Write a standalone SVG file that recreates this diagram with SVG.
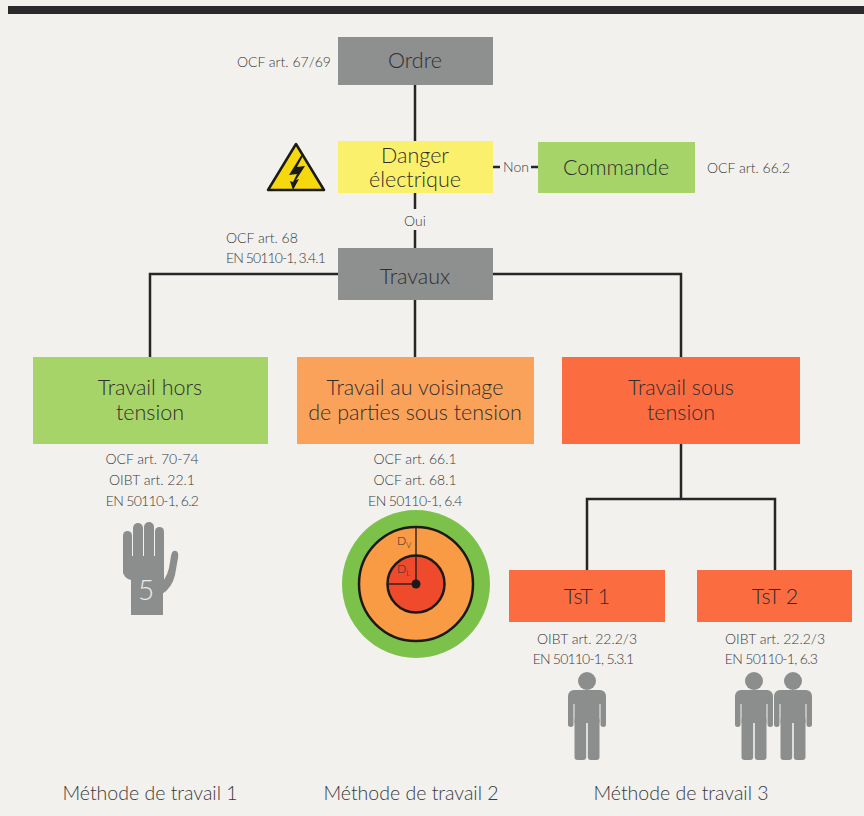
<svg xmlns="http://www.w3.org/2000/svg" width="864" height="816" viewBox="0 0 864 816">
<style>
  text { font-family: Lato, "Open Sans", "Liberation Sans", sans-serif; font-weight: 300; fill: #2f2f2f; }
  .big { font-size: 21.5px; text-anchor: middle; }
  .ref { font-size: 14px; fill: #3a3a3a; }
  .refc { font-size: 14px; fill: #3a3a3a; text-anchor: middle; }
  .foot { font-size: 19.5px; text-anchor: middle; fill: #3a3a3a; }
  .gray { fill: #8e8f8f; }
  .yellow { fill: #fbf06c; }
  .green { fill: #a7d468; }
  .orange { fill: #fba25a; }
  .red { fill: #fb6c40; }
  .icon { fill: #8c8d8d; }
  .conn { stroke: #262626; stroke-width: 2.5; fill: none; }
</style>
<defs>
  <g id="person">
    <circle cx="0" cy="0" r="9"/>
    <rect x="-19" y="9" width="38" height="14" rx="6"/>
    <rect x="-19" y="15" width="5.5" height="31" rx="2.7"/>
    <rect x="13.5" y="15" width="5.5" height="31" rx="2.7"/>
    <rect x="-12.5" y="15" width="25" height="27"/>
    <rect x="-12.5" y="36" width="11.7" height="43" rx="3"/>
    <rect x="0.8" y="36" width="11.7" height="43" rx="3"/>
  </g>
</defs>
<rect x="0" y="0" width="864" height="816" fill="#f2f1ee"/>
<rect x="8" y="6" width="856" height="8" fill="#2a2a2a"/>

<g id="connectors">
  <line class="conn" x1="415" y1="85" x2="415" y2="141"/>
  <line class="conn" x1="415" y1="193" x2="415" y2="209"/>
  <line class="conn" x1="415" y1="230" x2="415" y2="248"/>
  <line class="conn" x1="493" y1="167" x2="500" y2="167"/>
  <line class="conn" x1="531" y1="167" x2="538" y2="167"/>
  <polyline class="conn" points="150,357 150,274 681,274 681,357"/>
  <line class="conn" x1="415" y1="300" x2="415" y2="357"/>
  <line class="conn" x1="681" y1="444" x2="681" y2="499"/>
  <polyline class="conn" points="587,570 587,499 775,499 775,570"/>
  <text class="refc" x="415" y="226">Oui</text>
  <text class="refc" x="516" y="172">Non</text>
</g>

<g id="ordre">
  <rect class="gray" x="338" y="37" width="155" height="48"/>
  <text class="big" x="415" y="68">Ordre</text>
  <text class="ref" x="331" y="67" text-anchor="end">OCF art. 67/69</text>
</g>

<g id="danger">
  <rect class="yellow" x="338" y="141" width="155" height="52"/>
  <text class="big" x="415" y="163">Danger</text>
  <text class="big" x="415" y="187">électrique</text>
  <polygon points="296,144 268,190 324,190" fill="#f6d80f" stroke="#1a1a1a" stroke-width="2.5" stroke-linejoin="round"/>
  <polygon points="302,154 289,175 297,174 293,182 290,181 293,190 299,179 296,180 305,166 297,167 304,154" fill="#1a1a1a"/>
</g>

<g id="commande">
  <rect class="green" x="538" y="142" width="157" height="51"/>
  <text class="big" x="616" y="175">Commande</text>
  <text class="ref" x="707" y="173">OCF art. 66.2</text>
</g>

<g id="travaux">
  <rect class="gray" x="338" y="248" width="155" height="52"/>
  <text class="big" x="415" y="284">Travaux</text>
  <text class="ref" x="226" y="243">OCF art. 68</text>
  <text class="ref" x="226" y="263" letter-spacing="-0.9">EN 50110-1, 3.4.1</text>
</g>

<g id="hors-tension">
  <rect class="green" x="33" y="357" width="235" height="87"/>
  <text class="big" x="150" y="395">Travail hors</text>
  <text class="big" x="150" y="420">tension</text>
  <text class="refc" x="152" y="464">OCF art. 70-74</text>
  <text class="refc" x="152" y="485">OIBT art. 22.1</text>
  <text class="refc" x="152" y="506" letter-spacing="-0.7">EN 50110-1, 6.2</text>
  <g class="icon">
    <rect x="123" y="531" width="9" height="45" rx="4.5"/>
    <rect x="133" y="523" width="10" height="50" rx="5"/>
    <rect x="144" y="522" width="10" height="50" rx="5"/>
    <rect x="155" y="527" width="9" height="45" rx="4.5"/>
    <path d="M123,556 H164 V583 H131 V580 Q123,578 123,570 Z"/>
    <rect x="131" y="575" width="32" height="40"/>
    <path d="M158,586 Q166,580 169,568 L171,556 Q172,550 176,551 Q179,552 178,558 L175,575 Q172,588 162,594 Z"/>
  </g>
  <text x="146" y="600" font-size="28" text-anchor="middle" style="fill:#ececec">5</text>
</g>

<g id="voisinage">
  <rect class="orange" x="297" y="357" width="237" height="87"/>
  <text class="big" x="415" y="395">Travail au voisinage</text>
  <text class="big" x="415" y="420">de parties sous tension</text>
  <text class="refc" x="415" y="464">OCF art. 66.1</text>
  <text class="refc" x="415" y="485">OCF art. 68.1</text>
  <text class="refc" x="415" y="506" letter-spacing="-0.6">EN 50110-1, 6.4</text>
  <circle cx="416" cy="584" r="74" fill="#7cc24a"/>
  <circle cx="416" cy="584" r="57" fill="#f99a45" stroke="#1a1a1a" stroke-width="2.5"/>
  <circle cx="416" cy="584" r="28.5" fill="#f04a2c" stroke="#1a1a1a" stroke-width="2.5"/>
  <line x1="416" y1="584" x2="416" y2="527" stroke="#1a1a1a" stroke-width="1.3"/>
  <line x1="416" y1="584" x2="388" y2="584" stroke="#1a1a1a" stroke-width="1.3"/>
  <circle cx="416" cy="584" r="4.5" fill="#1a1a1a"/>
  <text x="397" y="545" font-size="12">D<tspan font-size="7.5" dy="3">V</tspan></text>
  <text x="397" y="573" font-size="12">D<tspan font-size="7.5" dy="3">L</tspan></text>
</g>

<g id="sous-tension">
  <rect class="red" x="562" y="357" width="238" height="87"/>
  <text class="big" x="681" y="395">Travail sous</text>
  <text class="big" x="681" y="420">tension</text>
</g>

<g id="tst1">
  <rect class="red" x="509" y="570" width="156" height="52"/>
  <text class="big" x="587" y="604">TsT 1</text>
  <text class="refc" x="587" y="644">OIBT art. 22.2/3</text>
  <text class="refc" x="583" y="664" letter-spacing="-0.8">EN 50110-1, 5.3.1</text>
  <use href="#person" x="587" y="681" class="icon"/>
</g>

<g id="tst2">
  <rect class="red" x="697" y="570" width="155" height="52"/>
  <text class="big" x="775" y="604">TsT 2</text>
  <text class="refc" x="775" y="644">OIBT art. 22.2/3</text>
  <text class="refc" x="771" y="664" letter-spacing="-0.7">EN 50110-1, 6.3</text>
  <use href="#person" x="754" y="681" class="icon"/>
  <use href="#person" x="793" y="681" class="icon"/>
</g>

<g id="footer">
  <text class="foot" x="150" y="800">Méthode de travail 1</text>
  <text class="foot" x="411" y="800">Méthode de travail 2</text>
  <text class="foot" x="681" y="800">Méthode de travail 3</text>
</g>
</svg>
